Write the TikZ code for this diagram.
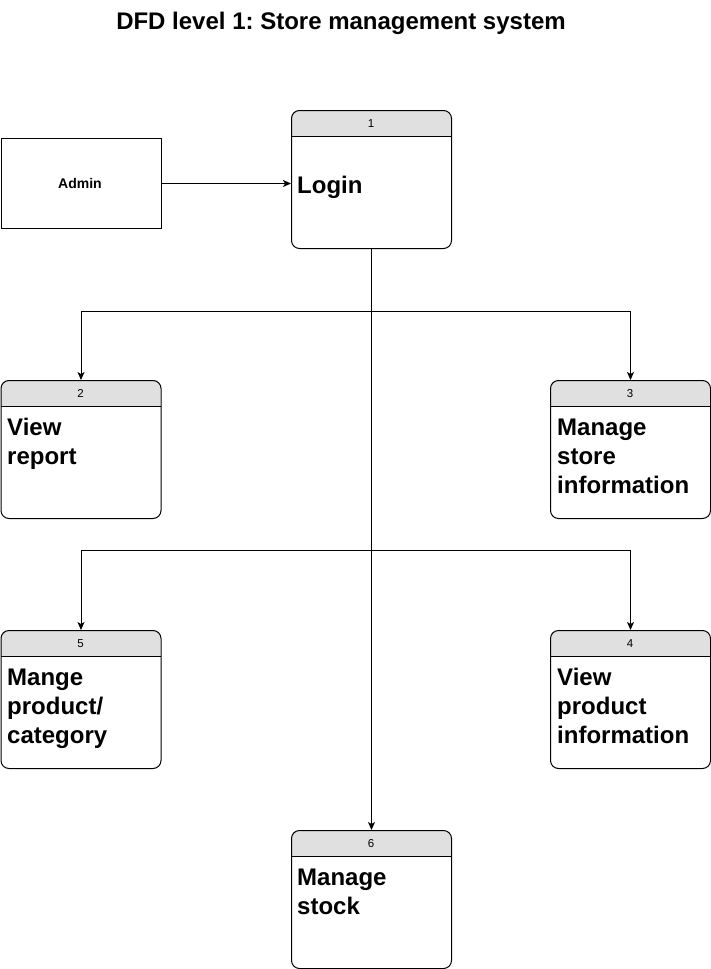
\documentclass[tikz,border=0pt]{standalone}
\usepackage{fontspec}
\setmainfont{Liberation Sans}
\usetikzlibrary{arrows.meta}
\frenchspacing
\definecolor{hdrgray}{HTML}{E0E0E0}
\newcommand\dfdproc[4]{% name, x, y, number
  \begin{scope}
    \clip[rounded corners=8pt] (#2,#3) rectangle ++(160,138);
    \fill[hdrgray] (#2,#3) rectangle ++(160,26);
  \end{scope}
  \node[procbox] (#1) at (#2,#3) {};
  \draw[thinline] (#2,#3+26) -- ++(160,0);
  \node[numtxt] (#1n) at (#2+80,#3+17) {#4};
}
\begin{document}
\begin{tikzpicture}[x=1pt,y=-1pt,
  thinline/.style={line width=1pt,black},
  procbox/.style={draw,line width=1pt,rounded corners=8pt,minimum width=160pt,minimum height=138pt,anchor=north west,inner sep=0pt},
  extbox/.style={draw,line width=1pt,minimum width=160pt,minimum height=90pt,anchor=north west,inner sep=0pt},
  numtxt/.style={anchor=base,inner sep=0pt,font=\fontsize{11.5}{13}\selectfont},
  bodytxt/.style={anchor=base west,align=left,inner sep=0pt,font=\fontsize{24}{29}\selectfont\bfseries},
  flow/.style={line width=1pt,-{Stealth[length=8pt,width=7pt,inset=2pt]}},
  titletxt/.style={anchor=base,inner sep=0pt,font=\fontsize{24}{28}\selectfont\bfseries}]
\fill[white] (0,0) rectangle (711,969);
\useasboundingbox (0,0) rectangle (711,969);
\node[titletxt] (title) at (341,29) {DFD level 1: Store management system};
\node[extbox] (admin) at (0.5,138) {};
\node[anchor=base,inner sep=0pt,font=\fontsize{14}{16}\selectfont\bfseries] (admintxt) at (80,188) {Admin};
\dfdproc{p1}{291}{110}{1}
\dfdproc{p2}{0.5}{380}{2}
\dfdproc{p3}{550}{380}{3}
\dfdproc{p5}{0.5}{630}{5}
\dfdproc{p4}{550}{630}{4}
\dfdproc{p6}{291}{830}{6}
\node[bodytxt] (t1) at (297,193.5) {Login};
\node[bodytxt] (t2) at (7,464) {View\\report};
\node[bodytxt] (t3) at (557,493) {Manage\\store\\information};
\node[bodytxt] (t5) at (7,743) {Mange\\product/\\category};
\node[bodytxt] (t4) at (557,743) {View\\product\\information};
\node[bodytxt] (t6) at (297,914) {Manage\\stock};
\coordinate (j1) at (371,311);
\coordinate (j2) at (371,550);
\draw[flow] (admin.east) -- (admin.east -| p1.west);
\draw[flow] (p1.south) -- (p6.north);
\draw[flow] (j1) -| (p2.north);
\draw[flow] (j1) -| (p3.north);
\draw[flow] (j2) -| (p5.north);
\draw[flow] (j2) -| (p4.north);
\end{tikzpicture}
\end{document}
